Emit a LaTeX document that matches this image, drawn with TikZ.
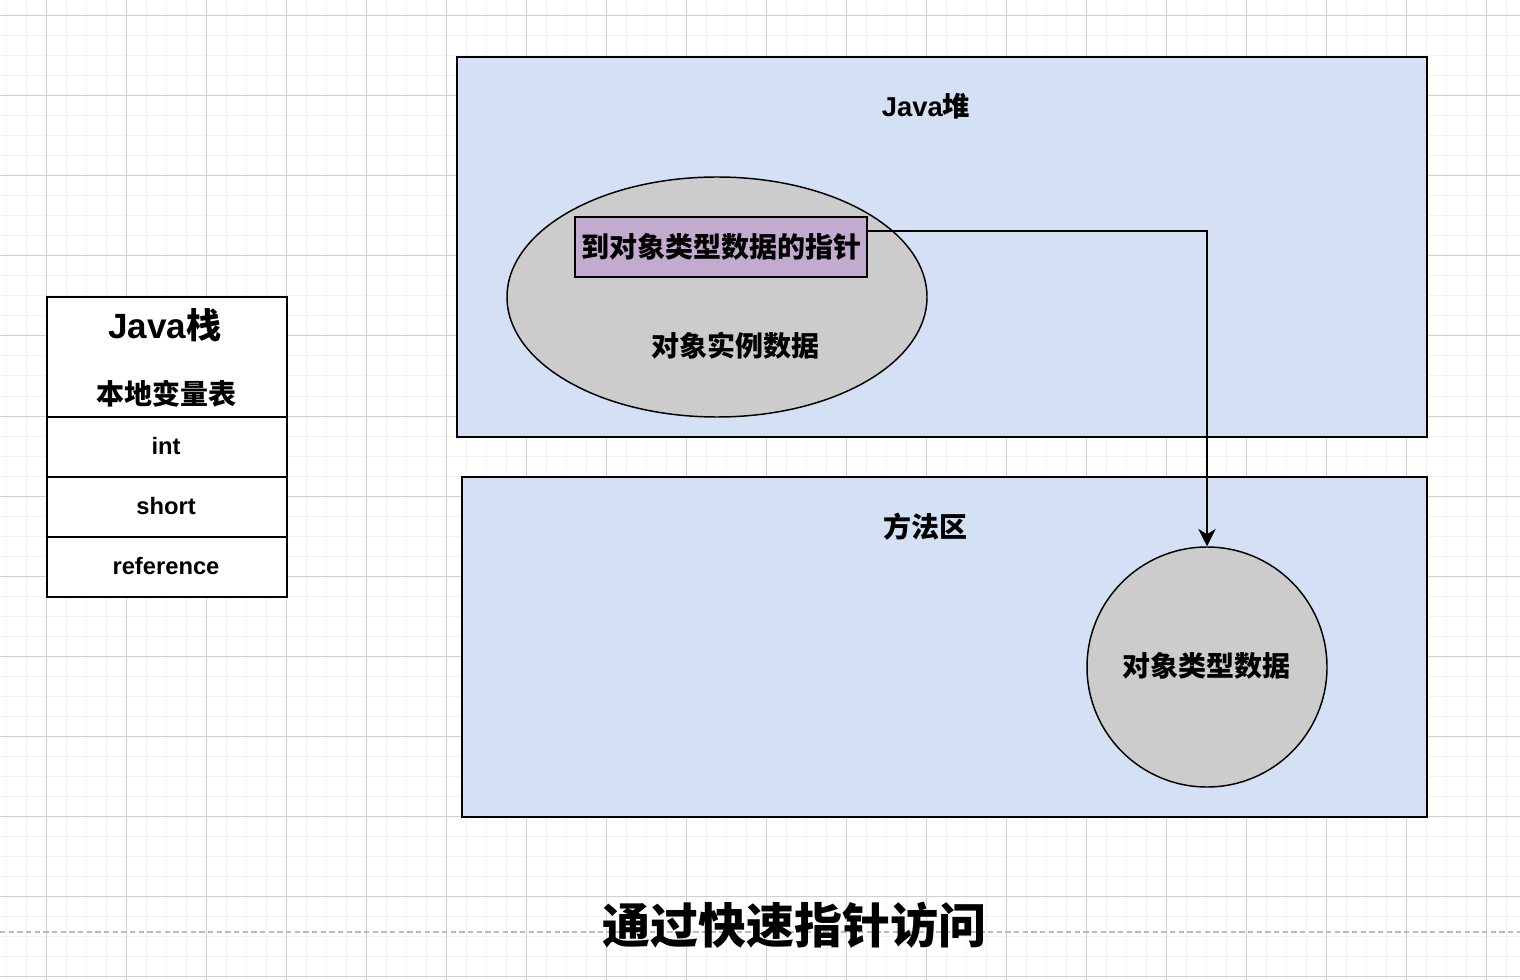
\documentclass[tikz,border=0pt]{standalone}
\usepackage{fontspec}
\setmainfont{Liberation Sans}
\newfontfamily\cjk{Noto Sans CJK SC}
\usetikzlibrary{shapes.geometric,arrows.meta}
\definecolor{gridminor}{HTML}{F2F2F2}
\definecolor{gridmajor}{HTML}{D0D0D0}
\definecolor{areablue}{HTML}{D4E1F5}
\definecolor{objgray}{HTML}{CCCCCC}
\definecolor{ptrpurple}{HTML}{C3ABD0}
\tikzset{
  area/.style={draw=black, line width=1.5pt, fill=areablue, rectangle, inner sep=0pt},
  cell/.style={draw=black, line width=1.5pt, fill=white, rectangle, inner sep=0pt, minimum width=180pt},
  obj/.style={draw=black, line width=1.1pt, fill=objgray, inner sep=0pt},
  ptrbox/.style={draw=black, line width=1.5pt, fill=ptrpurple, rectangle, inner sep=0pt, minimum width=219pt, minimum height=45pt},
  lbl/.style={font=\bfseries\fontsize{20.5}{24}\selectfont, inner sep=0pt},
  cjklbl/.style={font=\cjk\bfseries\fontsize{21}{24}\selectfont, inner sep=0pt},
  cellt/.style={font=\bfseries\fontsize{17.8}{21}\selectfont, inner sep=0pt},
  link/.style={draw=black, line width=1.3pt, -{Stealth[length=13pt, width=13pt, inset=4pt]}}
}
\begin{document}
\begin{tikzpicture}[x=0.75pt, y=-0.75pt]
\useasboundingbox (0,0) rectangle (1520,980);
\fill[white] (0,0) rectangle (1520,980);
% grid
\foreach \gx in {6,26,...,1520} \draw[gridminor, line width=0.75pt] (\gx,0) -- (\gx,980);
\foreach \gy in {16,36,...,980} \draw[gridminor, line width=0.75pt] (0,\gy) -- (1520,\gy);
\foreach \gx in {46,126,...,1520} \draw[gridmajor, line width=0.75pt] (\gx,0) -- (\gx,980);
\foreach \gy in {16,96,...,980} \draw[gridmajor, line width=0.75pt] (0,\gy) -- (1520,\gy);
% page break line
\draw[gridmajor!90!black, line width=0.9pt, dash pattern=on 4pt off 2.5pt] (0,932) -- (1520,932);

% Java stack
\node[cell, minimum height=90pt] (hdr) at (167,357) {};
\node[cell, minimum height=45pt] (rint) at (167,447) {};
\node[cell, minimum height=45pt] (rshort) at (167,507) {};
\node[cell, minimum height=45pt] (rref) at (167,567) {};
\node[font=\bfseries\fontsize{26.3}{30}\selectfont, inner sep=0pt] (stackt) at (165,325) {Java{\cjk 栈}};
\node[cjklbl] (lvt) at (166,394) {本地变量表};
\node[cellt] (tint) at (166,446) {int};
\node[cellt] (tshort) at (166,506) {short};
\node[cellt] (tref) at (166,566) {reference};

% Java heap
\node[area, minimum width=727.5pt, minimum height=285pt] (heap) at (942,247) {};
\node[lbl] (heapt) at (926,106) {Java{\cjk 堆}};
\node[obj, ellipse, minimum width=315pt, minimum height=180pt] (inst) at (717,297) {};
\node[cjklbl] (instt) at (735,346) {对象实例数据};
\node[ptrbox, font=\cjk\bfseries\fontsize{21}{24}\selectfont] (ptr) at (721,247) {到对象类型数据的指针};

% Method area
\node[area, minimum width=723.75pt, minimum height=255pt] (method) at (944.5,647) {};
\node[cjklbl] (methodt) at (925,527) {方法区};
\node[obj, circle, minimum size=180pt] (typ) at (1207,667) {};
\node[cjklbl] (typt) at (1206,666) {对象类型数据};

% connector
\coordinate (ptrout) at ([yshift=-11.25pt]ptr.north east);
\draw[link] (ptrout) -| (typ.north);

% title
\node[font=\cjk\bfseries\fontsize{36}{40}\selectfont, inner sep=0pt] (title) at (794,925) {通过快速指针访问};
\end{tikzpicture}
\end{document}
